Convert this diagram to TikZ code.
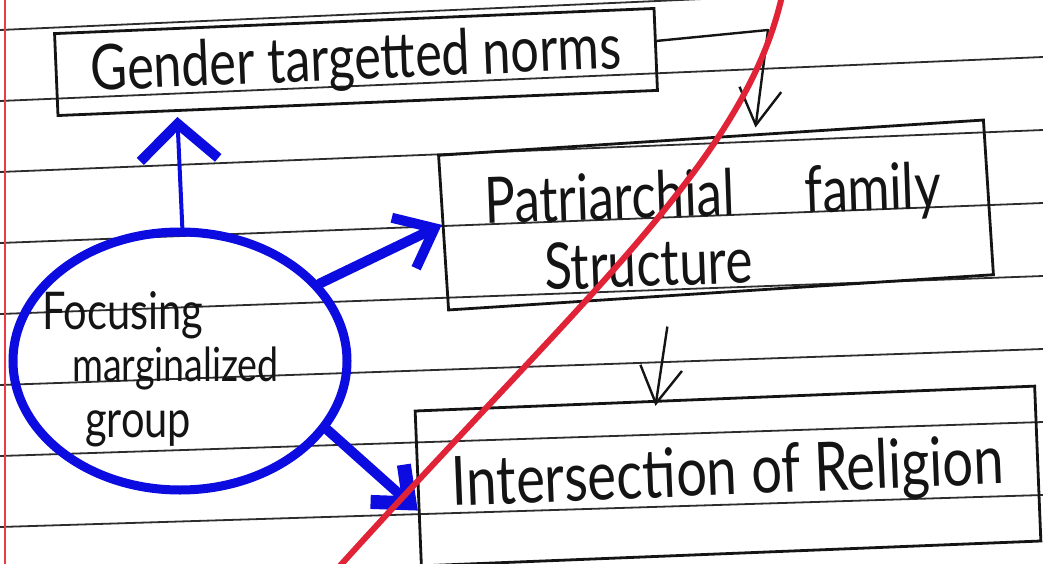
\documentclass[tikz,border=0pt]{standalone}
\usepackage{fontspec}
\setmainfont{Lato}[FakeStretch=0.8]
\usetikzlibrary{arrows.meta,calc,shapes.geometric}
\definecolor{ink}{RGB}{20,20,20}
\definecolor{pen}{RGB}{12,12,225}
\definecolor{redpen}{RGB}{225,35,55}
\definecolor{ruleline}{RGB}{45,45,45}
\definecolor{margin}{RGB}{235,60,70}
\begin{document}
\begin{tikzpicture}[x=1pt,y=-1pt,
  box/.style={draw=ink, line width=2.8pt, rectangle, inner sep=0pt, text=ink},
  hand/.style={text=ink, inner sep=0pt},
  blackarrow/.style={draw=ink, line width=2.4pt, line join=round,
    -{Straight Barb[length=36pt,width=42pt,line width=2.4pt]}},
  bluearrow/.style={draw=pen, line cap=round, line join=round}
]
\useasboundingbox (0,0) rectangle (1043,564);
\fill[white] (0,0) rectangle (1043,564);
% ruled paper
\foreach \k in {0,...,7}
  \draw[ruleline, line width=1.8pt] (0,{30+71*\k}) -- (1043,{-16+73*\k});
\draw[margin, line width=1.2pt] (5,0) -- (5,564);

% boxes
\node[box, rotate=2.4, minimum width=600pt, minimum height=82pt,
      font=\fontsize{63}{70}\selectfont] (g) at (356,62) {Gender targetted norms};
\node[box, rotate=3.7, minimum width=546pt, minimum height=155pt] (p) at (716,215) {};
\node[hand, rotate=2, anchor=base west, font=\fontsize{64}{70}\selectfont]
      (pt1) at (485,224) {Patriarchial\hspace{70pt}family};
\node[hand, rotate=2, anchor=base west, font=\fontsize{64}{70}\selectfont]
      (pt2) at (545,290) {Structure};
\node[box, rotate=2.3, minimum width=620pt, minimum height=155pt,
      font=\fontsize{68}{74}\selectfont] (r) at (728,476) {Intersection of Religion};

% ellipse
\node[draw=pen, line width=9pt, ellipse, minimum width=334pt, minimum height=258pt,
      inner sep=0pt] (f) at (180,361) {};
\node[hand, anchor=base west, font=\fontsize{52}{60}\selectfont] (f1) at (42,329) {Focusing};
\node[hand, anchor=base west, font=\fontsize{47}{60}\selectfont] (f2) at (72,381) {marginalized};
\node[hand, anchor=base west, font=\fontsize{52}{60}\selectfont] (f3) at (85,437) {group};

% blue arrows
\draw[bluearrow, line width=4pt, shorten >=5pt,
      -{Straight Barb[length=36pt,width=78pt,line width=10pt]}]
      (f.89) -- ($(g.south west)!0.2!(g.south east)$);
\draw[bluearrow, line width=10pt,
      -{Straight Barb[length=34pt,width=56pt,line width=10pt]}]
      (f.29) -- ($(p.north west)!0.45!(p.south west)$);
\draw[bluearrow, line width=10pt,
      -{Straight Barb[length=30pt,width=50pt,line width=14pt]}]
      (f.-25) -- ($(r.north west)!0.64!(r.south west)$);

% black arrows
\coordinate (bend) at (768,30);
\draw[blackarrow, shorten >=6pt] ($(g.north east)!0.4!(g.south east)$) -- (bend)
      -- ($(p.north west)!0.58!(p.north east)$);
\draw[blackarrow, shorten <=30pt, shorten >=-6pt]
      ($(p.south west)!0.41!(p.south east)$) -- ($(r.north west)!0.39!(r.north east)$);

% red stroke
\draw[redpen, line width=6pt, line cap=round]
  (782,-4) .. controls (745,160) and (580,300) .. (338,568);
\end{tikzpicture}
\end{document}
